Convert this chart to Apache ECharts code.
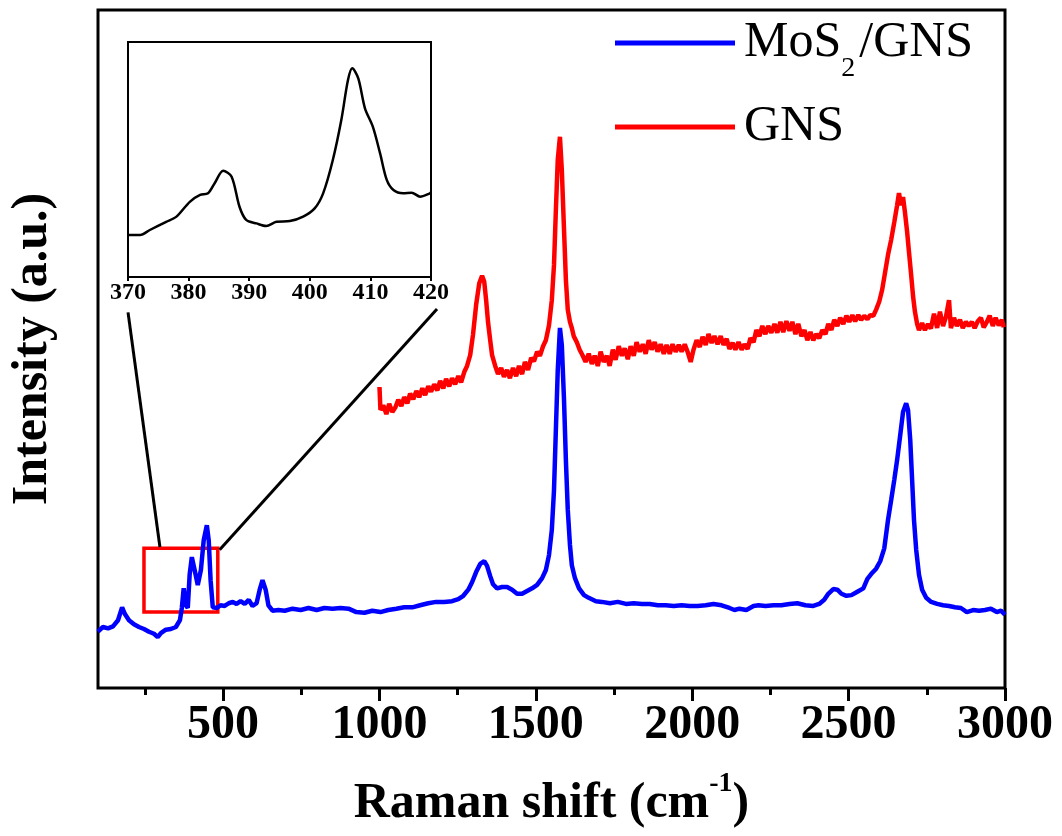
<!DOCTYPE html>
<html>
<head>
<meta charset="utf-8">
<script src="https://cdn.jsdelivr.net/npm/echarts@6/dist/echarts.min.js"></script>
<style>
  html, body { margin: 0; padding: 0; background: #fff; }
  #chart { width: 1062px; height: 836px; }
</style>
</head>
<body>
<div id="chart"></div>
<script>
// main spectrum, MoS2/GNS (blue)
const blueX = [100, 116, 132, 148, 164, 177, 186, 199, 215, 231, 247, 263, 279, 291, 301, 317, 333, 349, 362, 368,
  374, 381, 387, 393, 400, 409, 419, 429, 438, 448, 454, 460, 467, 480, 492, 505, 518, 531, 543, 556,
  569, 582, 594, 607, 617, 626, 636, 645, 658, 677, 697, 722, 748, 773, 799, 824, 850, 875, 901, 926,
  952, 977, 1003, 1028, 1054, 1079, 1105, 1130, 1156, 1181, 1207, 1232, 1252, 1268, 1284, 1296, 1309, 1322, 1335, 1344,
  1354, 1363, 1376, 1392, 1408, 1424, 1440, 1456, 1472, 1488, 1504, 1520, 1532, 1542, 1551, 1558, 1564, 1570, 1577, 1583,
  1590, 1596, 1602, 1609, 1615, 1625, 1638, 1654, 1669, 1692, 1711, 1737, 1762, 1788, 1813, 1839, 1864, 1890, 1915, 1941,
  1966, 1992, 2017, 2043, 2068, 2094, 2119, 2135, 2151, 2173, 2196, 2212, 2234, 2260, 2285, 2311, 2336, 2362, 2387, 2406,
  2422, 2435, 2451, 2464, 2477, 2493, 2509, 2528, 2547, 2560, 2572, 2588, 2601, 2614, 2626, 2636, 2646, 2655, 2665, 2674,
  2684, 2690, 2697, 2703, 2709, 2716, 2725, 2735, 2748, 2764, 2783, 2802, 2821, 2840, 2859, 2878, 2898, 2917, 2936, 2955,
  2974, 2987, 3000];
const blueY = [8.3, 9.0, 8.8, 9.1, 10.0, 11.9, 10.9, 10.0, 9.4, 9.0, 8.7, 8.3, 8.0, 7.5, 8.1, 8.6, 8.7, 9.0, 10.0, 11.8,
  14.7, 12.2, 11.8, 16.7, 19.3, 17.4, 15.2, 17.4, 21.8, 24.0, 21.8, 15.9, 11.9, 11.8, 12.2, 12.1, 12.5, 12.7, 12.4, 12.8,
  12.4, 13.0, 12.1, 12.5, 14.5, 15.9, 14.5, 12.2, 11.4, 11.5, 11.4, 11.7, 11.5, 11.8, 11.5, 11.8, 11.7, 11.8, 11.7, 11.2,
  11.1, 11.4, 11.2, 11.5, 11.7, 11.9, 11.9, 12.2, 12.5, 12.7, 12.7, 12.8, 13.1, 13.6, 14.5, 15.6, 17.1, 18.3, 18.7, 18.0,
  16.5, 15.3, 14.7, 14.9, 14.9, 14.5, 13.9, 13.9, 14.3, 14.7, 15.2, 16.2, 17.4, 19.6, 23.3, 29.2, 38.1, 46.9, 53.1, 50.6,
  42.5, 33.6, 26.3, 21.1, 18.1, 16.2, 14.7, 13.7, 13.3, 12.8, 12.7, 12.5, 12.7, 12.4, 12.5, 12.4, 12.4, 12.2, 12.2, 12.1,
  12.2, 12.1, 12.1, 12.2, 12.4, 12.2, 11.8, 11.5, 11.7, 11.5, 12.1, 12.2, 12.1, 12.2, 12.2, 12.4, 12.5, 12.2, 12.1, 12.4,
  13.0, 13.9, 14.6, 14.5, 13.9, 13.6, 13.7, 14.2, 14.7, 16.1, 16.8, 17.6, 18.7, 20.6, 24.8, 27.7, 30.7, 33.6, 37.3, 40.7,
  42.0, 41.0, 36.6, 30.7, 24.8, 20.4, 16.7, 14.5, 13.3, 12.7, 12.4, 12.2, 12.1, 11.9, 11.8, 11.2, 11.5, 11.4, 11.5, 11.7,
  11.2, 11.4, 10.8];

// GNS (red), starts at 1000 cm-1
const redX = [1000, 1003, 1012, 1022, 1031, 1041, 1051, 1060, 1070, 1079, 1089, 1098, 1108, 1118, 1127, 1137, 1146, 1156, 1165, 1175,
  1185, 1194, 1204, 1213, 1223, 1232, 1242, 1252, 1261, 1271, 1280, 1290, 1299, 1309, 1319, 1328, 1335, 1341, 1347, 1354,
  1360, 1370, 1379, 1389, 1398, 1408, 1417, 1427, 1437, 1446, 1456, 1465, 1475, 1485, 1494, 1504, 1513, 1523, 1532, 1542,
  1551, 1558, 1564, 1570, 1577, 1583, 1590, 1596, 1602, 1609, 1615, 1621, 1631, 1640, 1650, 1659, 1669, 1679, 1688, 1698,
  1707, 1717, 1727, 1736, 1746, 1755, 1765, 1775, 1784, 1794, 1803, 1813, 1822, 1832, 1842, 1851, 1861, 1870, 1880, 1889,
  1899, 1909, 1918, 1928, 1937, 1947, 1957, 1966, 1976, 1985, 1995, 2004, 2014, 2024, 2033, 2043, 2052, 2062, 2071, 2081,
  2091, 2100, 2110, 2119, 2129, 2138, 2148, 2158, 2167, 2177, 2186, 2196, 2205, 2215, 2224, 2234, 2243, 2253, 2263, 2272,
  2282, 2291, 2301, 2311, 2320, 2330, 2339, 2349, 2359, 2368, 2378, 2387, 2397, 2406, 2416, 2426, 2435, 2445, 2454, 2464,
  2473, 2483, 2493, 2502, 2512, 2521, 2531, 2540, 2550, 2560, 2569, 2579, 2588, 2598, 2607, 2617, 2626, 2636, 2646, 2655,
  2661, 2668, 2674, 2680, 2687, 2693, 2700, 2706, 2712, 2719, 2725, 2735, 2744, 2754, 2763, 2773, 2783, 2792, 2802, 2811,
  2821, 2827, 2837, 2846, 2856, 2865, 2875, 2884, 2894, 2903, 2913, 2923, 2932, 2942, 2951, 2961, 2970, 2980, 2990, 2996];
const redY = [44.4, 41.0, 41.7, 40.4, 41.9, 40.7, 41.4, 42.5, 41.6, 42.9, 42.0, 43.4, 42.6, 43.8, 42.9, 44.2, 43.2, 44.5, 43.7, 44.8,
  43.9, 45.3, 44.2, 45.6, 44.5, 45.7, 44.8, 46.0, 45.1, 46.6, 47.5, 49.1, 52.1, 56.5, 59.7, 60.8, 59.9, 57.2, 54.0, 51.3,
  49.1, 47.5, 46.3, 47.2, 45.9, 46.9, 45.7, 47.2, 46.0, 47.5, 46.3, 48.1, 46.9, 48.7, 48.2, 49.6, 49.0, 50.4, 51.3, 53.5,
  57.2, 62.4, 70.5, 77.9, 81.3, 76.4, 67.6, 60.2, 55.8, 54.0, 53.1, 51.9, 51.0, 49.9, 49.0, 48.1, 49.3, 47.8, 49.0, 47.5,
  49.6, 48.1, 49.0, 47.5, 49.9, 48.4, 50.4, 49.0, 50.1, 48.5, 50.4, 49.0, 51.0, 49.6, 50.7, 49.3, 51.3, 49.9, 51.0, 49.6,
  50.7, 49.3, 50.6, 49.3, 50.7, 49.6, 50.6, 49.6, 50.7, 49.6, 48.1, 49.9, 51.3, 50.3, 51.8, 50.6, 52.2, 50.9, 51.9, 50.7,
  51.9, 50.6, 51.5, 50.0, 50.9, 49.9, 51.0, 49.9, 50.7, 50.0, 51.6, 51.0, 52.8, 51.9, 53.4, 52.2, 53.4, 52.4, 53.7, 52.4,
  54.0, 52.5, 54.1, 52.7, 54.0, 52.2, 53.7, 51.9, 52.8, 51.3, 52.5, 51.3, 52.2, 51.6, 52.8, 52.2, 53.7, 52.8, 54.3, 53.4,
  54.6, 53.7, 54.9, 54.0, 55.0, 54.1, 55.0, 54.3, 54.9, 54.4, 55.0, 54.9, 55.8, 57.0, 58.7, 61.4, 63.9, 66.1, 68.7, 71.2,
  73.0, 71.2, 72.4, 70.2, 67.3, 64.3, 60.9, 57.8, 55.5, 53.7, 52.8, 53.8, 52.8, 53.7, 53.0, 55.2, 53.1, 55.5, 53.4, 54.7,
  57.2, 53.1, 54.6, 53.4, 54.3, 53.1, 54.0, 53.4, 54.0, 53.1, 54.1, 54.6, 53.2, 54.0, 54.9, 53.4, 54.6, 53.5, 54.3, 53.2];

// inset: 370-420 cm-1 region
const insetX = [370, 372, 373.6, 376.3, 378, 380.2, 381.9, 383.2, 384.3, 385.7, 387.1, 388.4, 389.5, 391.2, 392.8, 394.5, 396.7, 398.9,
  400.8, 402.2, 403.8, 405.2, 406.3, 407, 408, 409.1, 410.4, 411.6, 412.7, 413.8, 415.4, 416.8, 418.2, 419.8, 420];
const insetY = [17.9, 17.9, 20, 23.5, 25.7, 32, 34.9, 35.6, 39.9, 45.2, 42.7, 29.9, 24.3, 22.8, 21.7, 23.5, 23.8, 25.7,
  29.2, 35.6, 49.8, 66.8, 83.8, 88.8, 84.5, 71.8, 64, 52.6, 41.3, 37, 35.6, 35.9, 34.2, 35.6, 36];

const xTicks = [500, 1000, 1500, 2000, 2500, 3000];
const xMinorTicks = [250, 750, 1250, 1750, 2250, 2750];

// zoom box on the main plot and the two leader lines to the inset
const zoomBox = [[247, 11.2], [483, 20.6]];
const leaderLeft = [[196, 55.4], [298, 20.8]];
const leaderRight = [[1184, 55.9], [489, 20.4]];

const FONT = 'Liberation Serif, Times New Roman, serif';

const pairs = (xs, ys) => xs.map((x, i) => [x, ys[i]]);

const chart = echarts.init(document.getElementById('chart'));

chart.setOption({
  animation: false,
  backgroundColor: '#fff',
  legend: {
    data: ['MoS2/GNS', 'GNS'],
    orient: 'vertical',
    left: 615,
    top: 3,
    padding: 0,
    icon: 'rect',
    itemWidth: 120,
    itemHeight: 5,
    itemGap: 19,
    formatter: function (name) {
      return name === 'MoS2/GNS' ? '{n|MoS}{s|2}{n|/GNS}' : '{n|GNS}';
    },
    textStyle: {
      color: '#000',
      fontFamily: FONT,
      rich: {
        n: { fontSize: 50, fontFamily: FONT, color: '#000', lineHeight: 56, padding: [0, 0, 0, 4] },
        s: { fontSize: 28, fontFamily: FONT, color: '#000', lineHeight: 28, padding: [52, 0, 0, 0] }
      }
    }
  },
  grid: [
    {
      left: 95, right: 57, top: 10, bottom: 148,
      show: true, borderColor: '#000', borderWidth: 3, backgroundColor: '#fff'
    },
    {
      left: 128, top: 42, width: 303, height: 235,
      show: true, borderColor: '#000', borderWidth: 2, backgroundColor: '#fff', z: 5
    }
  ],
  xAxis: [
    {
      gridIndex: 0, type: 'value', min: 100, max: 3000, position: 'bottom',
      axisLine: { show: false },
      splitLine: { show: false },
      axisTick: { show: true, customValues: xTicks, length: 13, lineStyle: { color: '#000', width: 3 } },
      axisLabel: {
        customValues: xTicks, margin: 14,
        formatter: v => String(v),
        color: '#000', fontFamily: FONT, fontWeight: 'bold', fontSize: 48
      },
      name: '{a|Raman shift (cm}{s|-1}{a|)}',
      nameLocation: 'middle',
      nameGap: 82,
      nameTextStyle: {
        rich: {
          a: { fontSize: 50, fontWeight: 'bold', fontFamily: FONT, color: '#000' },
          s: { fontSize: 28, fontWeight: 'bold', fontFamily: FONT, color: '#000', padding: [0, 0, 40, 0] }
        }
      }
    },
    {
      // minor ticks
      gridIndex: 0, type: 'value', min: 100, max: 3000, position: 'bottom',
      axisLine: { show: false },
      splitLine: { show: false },
      axisLabel: { show: false },
      axisTick: { show: true, customValues: xMinorTicks, length: 7, lineStyle: { color: '#000', width: 3 } }
    },
    {
      gridIndex: 1, type: 'value', min: 370, max: 420, interval: 10,
      axisLine: { show: false },
      splitLine: { show: false },
      axisTick: { show: true, length: 4, lineStyle: { color: '#000', width: 2 } },
      axisLabel: { margin: 4, color: '#000', fontFamily: FONT, fontWeight: 'bold', fontSize: 24 },
      z: 5
    }
  ],
  yAxis: [
    {
      gridIndex: 0, type: 'value', min: 0, max: 100,
      axisLine: { show: false },
      axisTick: { show: false },
      axisLabel: { show: false },
      splitLine: { show: false },
      name: 'Intensity (a.u.)',
      nameLocation: 'middle',
      nameGap: 40,
      nameTextStyle: { fontSize: 50, fontWeight: 'bold', fontFamily: FONT, color: '#000' }
    },
    {
      gridIndex: 1, type: 'value', min: 0, max: 100,
      axisLine: { show: false },
      axisTick: { show: false },
      axisLabel: { show: false },
      splitLine: { show: false }
    }
  ],
  series: [
    {
      name: 'MoS2/GNS',
      type: 'line',
      xAxisIndex: 0, yAxisIndex: 0,
      data: pairs(blueX, blueY),
      symbol: 'none',
      color: '#0000ff',
      lineStyle: { color: '#0000ff', width: 4.5 },
      markArea: {
        silent: true,
        itemStyle: { color: 'rgba(0,0,0,0)', borderColor: '#ff0000', borderWidth: 3.5 },
        data: [[{ xAxis: zoomBox[0][0], yAxis: zoomBox[0][1] }, { xAxis: zoomBox[1][0], yAxis: zoomBox[1][1] }]]
      },
      markLine: {
        silent: true,
        symbol: ['none', 'none'],
        label: { show: false },
        lineStyle: { color: '#000', width: 3, type: 'solid' },
        data: [
          [{ coord: leaderLeft[0] }, { coord: leaderLeft[1] }],
          [{ coord: leaderRight[0] }, { coord: leaderRight[1] }]
        ]
      }
    },
    {
      name: 'GNS',
      type: 'line',
      xAxisIndex: 0, yAxisIndex: 0,
      data: pairs(redX, redY),
      symbol: 'none',
      color: '#ff0000',
      lineStyle: { color: '#ff0000', width: 4.5 }
    },
    {
      name: 'inset',
      type: 'line',
      xAxisIndex: 2, yAxisIndex: 1,
      data: pairs(insetX, insetY),
      symbol: 'none',
      smooth: 0.3,
      color: '#000',
      lineStyle: { color: '#000', width: 2.5 },
      z: 6
    }
  ]
});
</script>
</body>
</html>
